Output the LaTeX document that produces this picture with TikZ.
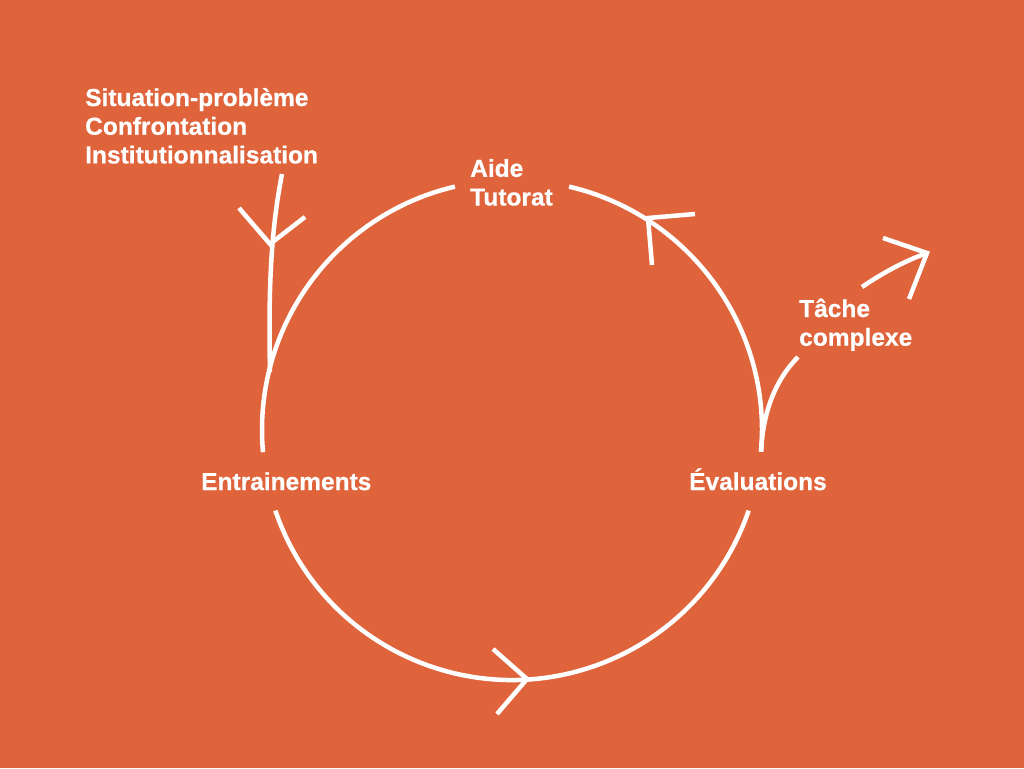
\documentclass[tikz,border=0pt]{standalone}
\usepackage{fontspec}
\setmainfont{Liberation Sans}[BoldFeatures={FakeBold=0.6}]
\definecolor{bg}{HTML}{E0643B}
\begin{document}
\begin{tikzpicture}[x=1pt,y=-1pt,
  stroke/.style={draw=white,line width=4.5pt},
  chevron/.style={stroke,line join=miter},
  lbl/.style={text=white,font=\fontsize{24.5}{28.7}\selectfont\bfseries,
    inner sep=0pt,anchor=base west,align=left}]
\fill[bg] (0,0) rectangle (1024,768);
\useasboundingbox (0,0) rectangle (1024,768);
\coordinate (c) at (512,430);

% labels (anchored at the baseline of their last line)
\node[lbl] (sit)   at (85,163.4) {Situation-problème\\Confrontation\\Institutionnalisation};
\node[lbl] (aide)  at (470,205.5) {Aide\\Tutorat};
\node[lbl] (entr)  at (201,490) {Entrainements};
\node[lbl] (eval)  at (689,490) {Évaluations};
\node[lbl] (tache) at (799,345.7) {Tâche\\complexe};

% the cycle, broken around each label
\draw[stroke] (c) ++(-103.2:250) arc[start angle=-103.2,end angle=-185.1,radius=250];
\draw[stroke] (c) ++(-198.8:250) arc[start angle=-198.8,end angle=-341.2,radius=250];
\draw[stroke] (c) ++(5:250) coordinate (evtop) arc[start angle=5,end angle=-76.8,radius=250];

% incoming branch on the left
\coordinate (lin) at (282,174);
\coordinate (ljoin) at (270,372);
\draw[stroke] (lin) .. controls (272,225) and (268,280) .. (ljoin);

% outgoing branch on the right
\coordinate (rmid) at (798,357);
\coordinate (rin) at (862,287);
\coordinate (rtip) at (927,253);
\draw[stroke] (evtop) .. controls (763,408) and (778,377) .. (rmid);
\draw[stroke] (rin) .. controls (884,272) and (905,261) .. (rtip);

% arrow heads
\coordinate (ltip) at (270,244);
\coordinate (ttip) at (648,218);
\coordinate (btip) at (527,679);
\draw[chevron] (239,208) -- (ltip) -- (305,217);
\draw[chevron] (695,214) -- (ttip) -- (652,265);
\draw[chevron] (493,649) -- (btip) -- (497,714);
\draw[chevron] (883,238) -- (rtip) -- (909,299);
\end{tikzpicture}
\end{document}
